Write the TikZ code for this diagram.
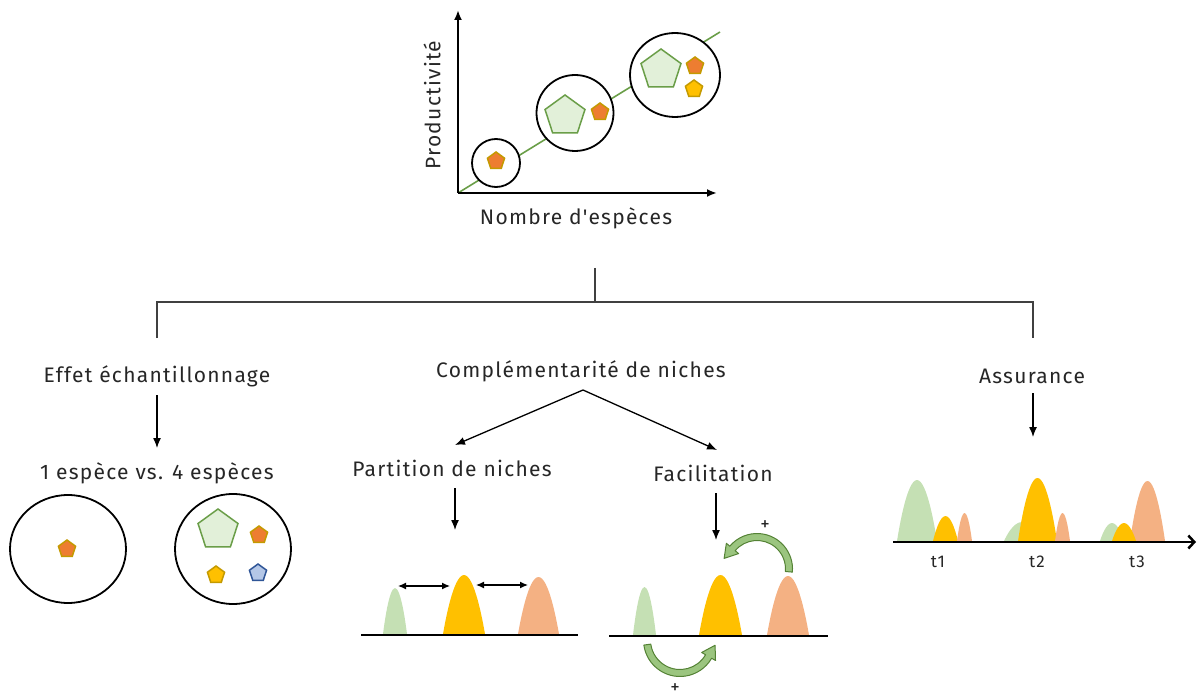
\documentclass[tikz,border=0pt]{standalone}
\usepackage{fontspec}
\setmainfont{Fira Sans}[LetterSpace=6, Ligatures=TeXOff]
\usetikzlibrary{arrows.meta,calc,shapes.geometric}
\definecolor{txt}{HTML}{262626}
\definecolor{lgreen}{HTML}{C5E0B4}
\definecolor{pgreen}{HTML}{E2F0D9}
\definecolor{dgreen}{HTML}{548235}
\definecolor{mgreen}{HTML}{6A9E48}
\definecolor{agreen}{HTML}{9BC57F}
\definecolor{gold}{HTML}{FFC000}
\definecolor{goldd}{HTML}{C49A00}
\definecolor{orng}{HTML}{ED7D31}
\definecolor{peach}{HTML}{F4B183}
\definecolor{blu}{HTML}{B4C7E7}
\definecolor{blud}{HTML}{2F5597}
\newcommand\peakshape[5]{\fill[#5] ({#1-#2},#4) parabola bend (#1,#3) ({#1+#2},#4) -- cycle;}
\begin{document}
\begin{tikzpicture}[x=1pt,y=-1pt,
  lbl/.style={inner sep=0, anchor=base, font=\fontsize{21}{25}\selectfont, text=txt},
  small/.style={inner sep=0, anchor=base, font=\fontsize{17}{19}\selectfont, text=txt},
  arr/.style={-{Latex[length=10pt,width=8pt]}, line width=1.3pt, draw=black},
  tree/.style={line width=1.3pt, draw=black!75},
  ring/.style={draw=black, line width=1.8pt, fill=white, ellipse, inner sep=0},
  pent/.style={regular polygon, regular polygon sides=5, inner sep=0, line width=1.5pt, minimum size=#1},
  porange/.style={pent=18pt, fill=orng, draw=goldd},
  pyellow/.style={pent=18pt, fill=gold, draw=goldd},
  pblue/.style={pent=18pt, fill=blu, draw=blud},
  pgreenbig/.style={pent=42pt, fill=pgreen, draw=mgreen},
  barrow/.style={fill=agreen, draw=dgreen, line width=1pt, line join=round},
  base/.style={line width=2.5pt, draw=black},
  plus/.style={inner sep=0, anchor=center, font=\fontsize{19}{20}\selectfont, text=txt}
]
\useasboundingbox (0,0) rectangle (1198,700);

% ---------- top chart ----------
\coordinate (O) at (458,193);
\coordinate (ytop) at (458,10);
\coordinate (xend) at (717,193);
\coordinate (gl) at (720,32);
\draw[mgreen, line width=1.6pt] (O) -- (gl);
\draw[line width=2pt, -{Latex[length=10pt,width=8pt]}] (O) -- (ytop);
\draw[line width=2pt, -{Latex[length=10pt,width=8pt]}] (O) -- (xend);
\node[ring, minimum width=48pt, minimum height=48pt] (c1) at (496,163) {};
\node[ring, minimum width=77pt, minimum height=76pt] (c2) at (575,113) {};
\node[ring, minimum width=90pt, minimum height=84pt] (c3) at (675,75) {};
\node[porange] (p11) at (496,161) {};
\node[pgreenbig] (p21) at (565,116) {};
\node[porange] (p22) at (600,112) {};
\node[pgreenbig] (p31) at (661,70) {};
\node[porange] (p32) at (695,66) {};
\node[pyellow] (p33) at (694,89) {};
\node[lbl, rotate=90, anchor=center] (prod) at (432,105) {Productivité};
\node[lbl] (nombre) at (576,225) {Nombre d'espèces};

% ---------- tree ----------
\coordinate (t0) at (595,268);
\coordinate (t1) at (595,302);
\coordinate (tl) at (157,302);
\coordinate (tr) at (1033,302);
\coordinate (tld) at (157,338);
\coordinate (trd) at (1033,338);
\draw[tree] (t0) -- (t1);
\draw[tree] (tld) -- (tl) -- (tr) -- (trd);

\node[lbl] (effet) at (157,382) {Effet échantillonnage};
\node[lbl] (comp) at (581,377) {Complémentarité de niches};
\node[lbl] (assur) at (1032,383) {Assurance};
\node[lbl] (ech) at (157,479) {1 espèce vs. 4 espèces};
\node[lbl] (part) at (452,476) {Partition de niches};
\node[lbl] (facil) at (713,481) {Facilitation};

\coordinate (split) at ($(comp.base)+(2,13)$);
\draw[arr] ($(effet.base)+(0,13)$) -- ($(ech.base)+(0,-31)$);
\draw[arr] (split) -- ($(part.base)+(3,-31)$);
\draw[arr] (split) -- ($(facil.base)+(4,-31)$);
\draw[arr] ($(assur.base)+(1,10)$) -- ($(assur.base)+(1,54)$);
\draw[arr] ($(part.base)+(3,12)$) -- ($(part.base)+(3,54)$);
\draw[arr] ($(facil.base)+(3,12)$) -- ($(facil.base)+(3,59)$);

% ---------- sampling effect ----------
\node[ring, minimum width=116pt, minimum height=108pt] (e1) at (68,549) {};
\node[ring, minimum width=116pt, minimum height=110pt] (e2) at (233,549) {};
\node[porange] (q1) at (67,549) {};
\node[pgreenbig] (q2) at (218,530) {};
\node[porange] (q3) at (259,535) {};
\node[pyellow] (q4) at (216,575) {};
\node[pblue] (q5) at (258,573) {};

% ---------- partition ----------
\peakshape{395}{12}{588}{634}{lgreen}
\peakshape{464}{21}{575}{634}{gold}
\peakshape{538.5}{20.5}{577}{634}{peach}
\coordinate (pb1) at (361,635);
\coordinate (pb2) at (578,635);
\draw[base] (pb1) -- (pb2);
\coordinate (da1) at (398,586);
\coordinate (da2) at (450,586);
\coordinate (db1) at (476,585);
\coordinate (db2) at (528,585);
\draw[{Latex[length=8pt,width=7pt]}-{Latex[length=8pt,width=7pt]}, line width=1.3pt] (da1) -- (da2);
\draw[{Latex[length=8pt,width=7pt]}-{Latex[length=8pt,width=7pt]}, line width=1.3pt] (db1) -- (db2);

% ---------- facilitation ----------
\peakshape{644.5}{11.5}{587}{635}{lgreen}
\peakshape{720.5}{21.5}{575}{635}{gold}
\peakshape{788}{21}{576}{635}{peach}
\coordinate (fb1) at (609,636);
\coordinate (fb2) at (828,636);
\draw[base] (fb1) -- (fb2);
\coordinate (ca) at (757,569);
\filldraw[barrow] ($(ca)+(5:35.5)$) arc[start angle=5,end angle=-140,radius=35.5]
  -- ($(ca)+(-140:40)$) -- ($(ca)+(-140:32)+(130:13)$) -- ($(ca)+(-140:24)$)
  -- ($(ca)+(-140:28.5)$) arc[start angle=-140,end angle=5,radius=28.5] -- cycle;
\coordinate (cb) at (680,640);
\filldraw[barrow] ($(cb)+(172:36.5)$) arc[start angle=172,end angle=30,radius=36.5]
  -- ($(cb)+(30:41)$) -- ($(cb)+(30:33)+(-60:13)$) -- ($(cb)+(30:25)$)
  -- ($(cb)+(30:29.5)$) arc[start angle=30,end angle=172,radius=29.5] -- cycle;
\node[plus] (plus1) at (765,526) {+};
\node[plus] (plus2) at (675,689) {+};

% ---------- assurance ----------
\peakshape{917}{20}{480}{541}{lgreen}
\peakshape{945.5}{12.5}{516}{541}{gold}
\peakshape{964.5}{7.5}{513}{541}{peach}
\peakshape{1022}{18}{522}{541}{lgreen}
\peakshape{1037.5}{19.5}{478}{541}{gold}
\peakshape{1062.5}{7.5}{513}{541}{peach}
\peakshape{1112}{12}{523}{541}{lgreen}
\peakshape{1147.5}{17.5}{481}{541}{peach}
\peakshape{1124}{12}{523}{541}{gold}
\coordinate (ax1) at (893,542);
\coordinate (ax2) at (1196,542);
\draw[line width=2.5pt, -{Straight Barb[length=6pt,width=13pt]}] (ax1) -- (ax2);
\node[small] (tt1) at (938,567) {t1};
\node[small] (tt2) at (1037,567) {t2};
\node[small] (tt3) at (1137,567) {t3};
\end{tikzpicture}
\end{document}
